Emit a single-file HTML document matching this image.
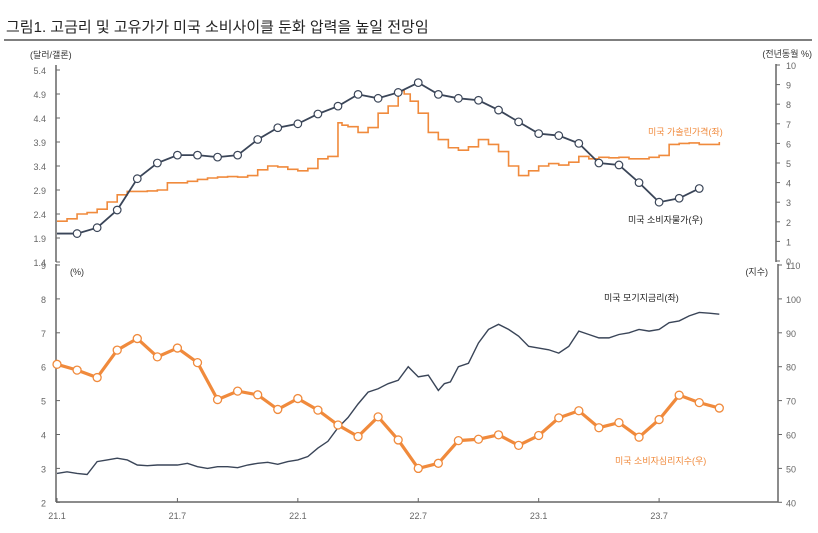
<!DOCTYPE html>
<html><head><meta charset="utf-8"><style>
body{margin:0;background:#fff;font-family:"Liberation Sans","Noto Sans CJK KR",sans-serif}
svg text{font-family:"Liberation Sans","Noto Sans CJK KR",sans-serif}
</style></head><body>
<svg id="c" width="818" height="528" xmlns="http://www.w3.org/2000/svg">
<text x="6" y="32" font-size="15" fill="#222">그림1.   고금리 및 고유가가 미국 소비사이클 둔화 압력을 높일 전망임</text>
<line x1="4" y1="40" x2="812" y2="40" stroke="#333" stroke-width="1.2"/>
<g id="g"></g>
</svg>
<script>
const gasMonths=[0,0.5,1,1.5,2,2.5,3,3.5,4,4.5,5,5.5,6,6.5,7,7.5,8,8.5,9,9.5,10,10.5,11,11.5,12,12.5,13,13.5,14,14.2,14.5,15,15.5,16,16.5,17,17.3,17.6,18,18.5,19,19.5,20,20.5,21,21.5,22,22.5,23,23.5,24,24.5,25,25.5,26,26.5,27,27.5,28,28.5,29,29.5,30,30.5,31,31.5,32,32.5,33];
const gasVals=[2.25,2.3,2.4,2.43,2.5,2.65,2.8,2.87,2.87,2.88,2.9,3.05,3.05,3.08,3.12,3.15,3.17,3.18,3.17,3.2,3.32,3.4,3.38,3.33,3.3,3.35,3.55,3.6,4.3,4.25,4.22,4.1,4.2,4.5,4.65,4.97,4.9,4.75,4.5,4.1,3.95,3.78,3.73,3.8,3.95,3.85,3.7,3.4,3.2,3.3,3.4,3.45,3.42,3.48,3.6,3.55,3.58,3.57,3.58,3.55,3.55,3.58,3.62,3.85,3.87,3.88,3.85,3.85,3.9];
const cpiMonths=[0,1,2,3,4,5,6,7,8,9,10,11,12,13,14,15,16,17,18,19,20,21,22,23,24,25,26,27,28,29,30,31,32];
const cpiVals=[1.4,1.4,1.7,2.6,4.2,5.0,5.4,5.4,5.3,5.4,6.2,6.8,7.0,7.5,7.9,8.5,8.3,8.6,9.1,8.5,8.3,8.2,7.7,7.1,6.5,6.4,6.0,5.0,4.9,4.0,3.0,3.2,3.7];
const mortMonths=[0,0.5,1,1.5,2,2.5,3,3.5,4,4.5,5,5.5,6,6.5,7,7.5,8,8.5,9,9.5,10,10.5,11,11.5,12,12.5,13,13.5,14,14.5,15,15.5,16,16.5,17,17.5,18,18.5,19,19.3,19.6,20,20.5,21,21.5,22,22.5,23,23.5,24,24.5,25,25.5,26,26.5,27,27.5,28,28.5,29,29.5,30,30.5,31,31.5,32,32.5,33];
const mortVals=[2.85,2.9,2.85,2.82,3.2,3.25,3.3,3.25,3.1,3.08,3.1,3.1,3.1,3.15,3.05,3.0,3.05,3.05,3.02,3.1,3.15,3.18,3.12,3.2,3.25,3.35,3.6,3.8,4.2,4.5,4.9,5.25,5.35,5.5,5.6,6.0,5.7,5.75,5.3,5.5,5.55,6.0,6.1,6.7,7.1,7.25,7.1,6.9,6.6,6.55,6.5,6.4,6.6,7.05,6.95,6.85,6.85,6.95,7.0,7.1,7.05,7.1,7.3,7.35,7.5,7.6,7.58,7.55];
const sentVals=[80.7,79.0,76.8,84.9,88.3,82.9,85.5,81.2,70.3,72.8,71.7,67.4,70.6,67.2,62.8,59.4,65.2,58.4,50.0,51.5,58.2,58.6,59.9,56.8,59.7,64.9,67.0,62.0,63.5,59.2,64.4,71.6,69.4,67.8];
const topLeftTicks=["5.4","4.9","4.4","3.9","3.4","2.9","2.4","1.9","1.4"];
const topRightTicks=["10","9","8","7","6","5","4","3","2","1","0"];
const botLeftTicks=["9","8","7","6","5","4","3","2"];
const botRightTicks=["110","100","90","80","70","60","50","40"];
const xLabels=["21.1","21.7","22.1","22.7","23.1","23.7"];

const NS="http://www.w3.org/2000/svg",G=document.getElementById('g');
function mk(t,a,p){const e=document.createElementNS(NS,t);for(const k in a)e.setAttribute(k,a[k]);(p||G).appendChild(e);return e;}
const X=m=>57+m*20.07;
const yTL=v=>70+(5.4-v)*48, yTR=v=>261-v*19.6;
const yBL=v=>265+(9-v)*33.9, yBR=v=>265+(110-v)*3.39;
const grey="#666",navy="#3a4558",orange="#f08a3c";

// axes
let e;
e=mk('line',{x1:56,y1:65,x2:56,y2:262,stroke:grey,'stroke-width':1.5});

e=mk('line',{x1:776,y1:64,x2:776,y2:262,stroke:grey,'stroke-width':1.5});

e=mk('line',{x1:56,y1:264,x2:56,y2:502,stroke:grey,'stroke-width':1.5});

e=mk('line',{x1:778,y1:264,x2:778,y2:502,stroke:grey,'stroke-width':1.5});

e=mk('line',{x1:56,y1:502,x2:778,y2:502,stroke:grey,'stroke-width':1.5});


topLeftTicks.forEach(t=>{const y=yTL(+t);
 mk('line',{x1:56,y1:y,x2:60,y2:y,stroke:grey});
 e=mk('text',{x:46,y:y+4,'font-size':9,fill:grey,'text-anchor':'end'});e.textContent=t;
 });
topRightTicks.forEach(t=>{const y=yTR(+t);
 mk('line',{x1:776,y1:y,x2:780,y2:y,stroke:grey});
 e=mk('text',{x:786,y:y+4,'font-size':9,fill:grey});e.textContent=t;
 });
botLeftTicks.forEach(t=>{const y=yBL(+t);
 mk('line',{x1:56,y1:y,x2:60,y2:y,stroke:grey});
 e=mk('text',{x:46,y:y+4,'font-size':9,fill:grey,'text-anchor':'end'});e.textContent=t;
 });
botRightTicks.forEach(t=>{const y=yBR(+t);
 mk('line',{x1:778,y1:y,x2:782,y2:y,stroke:grey});
 e=mk('text',{x:786,y:y+4,'font-size':9,fill:grey});e.textContent=t;
 });
xLabels.forEach((t,i)=>{const x=X(i*6);
 mk('line',{x1:x,y1:502,x2:x,y2:498,stroke:grey});
 e=mk('text',{x:x,y:519,'font-size':9,fill:grey,'text-anchor':'middle'});e.textContent=t;
 });

function lbl(x,y,t,name,col,anchor){e=mk('text',{x:x,y:y,'font-size':9,fill:col||'#333','text-anchor':anchor||'start'});e.textContent=t;
 }
lbl(30,58,'(달러/갤론)','top-left-unit');
lbl(812,57,'(전년동월 %)','top-right-unit','#333','end');
lbl(70,275,'(%)','bottom-left-unit');
lbl(768,275,'(지수)','bottom-right-unit','#333','end');
lbl(648,135,'미국 가솔린가격(좌)','gasoline-label',orange);
lbl(628,223,'미국 소비자물가(우)','cpi-label','#222');
lbl(604,301,'미국 모기지금리(좌)','mortgage-label','#222');
lbl(615,464,'미국 소비자심리지수(우)','sentiment-label',orange);

// gasoline step line
let d='M'+X(gasMonths[0])+','+yTL(gasVals[0]);
for(let i=1;i<gasMonths.length;i++){d+=' H'+X(gasMonths[i])+' V'+yTL(gasVals[i]);}
e=mk('path',{d:d,fill:'none',stroke:orange,'stroke-width':1.6});


// cpi
d=cpiMonths.map((m,i)=>(i?'L':'M')+X(m)+','+yTR(cpiVals[i])).join(' ');
e=mk('path',{d:d,fill:'none',stroke:navy,'stroke-width':1.8});

cpiMonths.forEach((m,i)=>{if(i===0)return;
 e=mk('circle',{cx:X(m),cy:yTR(cpiVals[i]),r:3.8,fill:'#fff',stroke:navy,'stroke-width':1.2});
 });

// mortgage
d=mortMonths.map((m,i)=>(i?'L':'M')+X(m)+','+yBL(mortVals[i])).join(' ');
e=mk('path',{d:d,fill:'none',stroke:navy,'stroke-width':1.4});


// sentiment
d=sentVals.map((v,i)=>(i?'L':'M')+X(i)+','+yBR(v)).join(' ');
e=mk('path',{d:d,fill:'none',stroke:orange,'stroke-width':3.2});

sentVals.forEach((v,i)=>{
 e=mk('circle',{cx:X(i),cy:yBR(v),r:4,fill:'#fff',stroke:orange,'stroke-width':1.3});
 });
</script>
</body></html>
